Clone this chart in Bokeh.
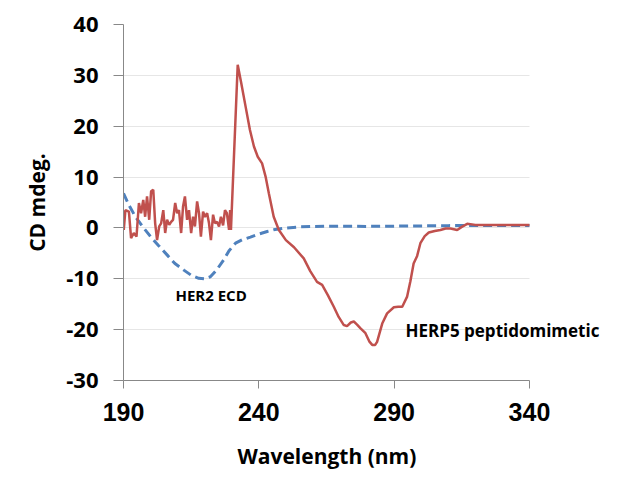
from bokeh.plotting import figure
from bokeh.models import Label, FixedTicker, PrintfTickFormatter, Title
from bokeh.embed import file_html
from bokeh.resources import INLINE

# HERP5 peptidomimetic (red, solid)
herp5_wl = [190.1, 190.7, 192.0, 192.8, 193.8, 194.8, 195.7, 196.5, 197.3, 198.0,
            198.7, 199.5, 200.2, 201.0, 201.7, 202.4, 203.2, 203.9, 204.7, 205.4,
            206.1, 206.9, 207.6, 208.3, 209.1, 209.8, 210.5, 211.3, 212.0, 212.7,
            213.5, 214.2, 215.0, 215.7, 216.4, 217.2, 217.9, 218.6, 219.4, 220.1,
            220.9, 221.6, 222.3, 223.1, 223.8, 224.5, 225.3, 226.0, 226.8, 227.5,
            228.2, 229.0, 229.4, 229.7,
            232.2, 233.5, 235.1, 236.7, 238.2, 239.6, 241.2, 242.5, 243.7, 245.5,
            247.4, 250.0, 253.0, 256.6, 259.0, 261.5, 263.4, 265.5, 267.7, 269.5,
            271.4, 272.6, 274.0, 275.1, 276.3, 277.5, 279.4, 280.8, 281.9, 283.0,
            283.7, 285.6, 287.4, 289.9, 291.5, 293.0, 294.8, 296.0, 297.2, 298.5,
            299.7, 301.3, 302.8, 305.0, 307.1, 309.0, 310.8, 313.3, 315.0, 317.0,
            320.0, 325.0, 330.0, 335.0, 340.0]
herp5_cd = [-0.4, 3.5, 3.2, -2.0, -1.0, -1.7, 4.9, 2.9, 5.5, 2.2,
            6.2, 1.6, 7.2, 7.5, 0.9, -2.4, 0.3, 0.9, 3.5, -1.0,
            1.6, 0.6, 1.2, 1.6, 4.9, 2.9, 3.5, -1.0, 4.2, 6.2,
            1.6, 3.5, -1.0, 2.2, 0.3, 5.2, 2.9, -1.7, 3.2, 2.2,
            2.9, 0.9, -2.4, 2.6, 0.9, 1.2, 0.3, 2.2, 0.5, 3.5,
            2.9, -0.4, 3.5, -0.4,
            32.1, 28.5, 23.9, 19.3, 16.0, 14.0, 12.7, 10.1, 6.8, 2.2,
            -0.4, -2.4, -3.8, -6.0, -8.5, -10.6, -11.2, -13.2, -15.5, -17.5,
            -19.1, -19.3, -18.6, -18.4, -19.0, -19.7, -20.7, -22.3, -23.0, -23.0,
            -22.4, -18.8, -16.8, -15.6, -15.5, -15.5, -13.5, -10.5, -7.0, -5.5,
            -3.0, -1.6, -0.9, -0.6, -0.4, -0.1, -0.1, -0.4, 0.2, 0.8,
            0.6, 0.6, 0.6, 0.6, 0.6]

# HER2 ECD (blue, dashed)
her2_wl = [190.0, 192.0, 194.4, 197.0, 200.0, 203.0, 206.1, 209.0, 212.3, 215.0,
           217.8, 220.0, 222.1, 224.5, 227.0, 229.0, 231.4, 234.0, 236.9, 240.0,
           243.1, 246.0, 249.2, 255.0, 260.0, 270.0, 280.0, 290.0, 300.0, 310.0,
           320.0, 330.0, 340.0]
her2_cd = [6.8, 4.5, 2.2, 0.3, -1.7, -3.5, -5.3, -7.0, -8.3, -9.3,
           -9.9, -10.0, -9.6, -8.2, -6.3, -4.5, -3.0, -2.3, -1.8, -1.2,
           -0.7, -0.3, -0.05, 0.2, 0.3, 0.35, 0.3, 0.35, 0.4, 0.45,
           0.5, 0.5, 0.5]

x_ticks = [190, 240, 290, 340]
y_ticks = [-30, -20, -10, 0, 10, 20, 30, 40]
x_min, x_max = 190, 340

# frame extends past 340 so the right-hand annotation is not clipped
p = figure(width=618, height=485, x_range=(190, 372.9), y_range=(-30, 40),
           output_backend="svg", toolbar_location=None,
           min_border_left=123, min_border_right=0, min_border_top=24, min_border_bottom=104)
p.outline_line_color = None
p.background_fill_color = "white"
p.border_fill_color = "white"

p.line(her2_wl, her2_cd, line_color="#4F81BD", line_width=3, line_dash="9 5")
p.line(herp5_wl, herp5_cd, line_color="#C0504D", line_width=2.5)

p.xgrid.grid_line_color = None
p.ygrid.grid_line_color = "#E6E6E6"
p.ygrid.ticker = FixedTicker(ticks=y_ticks)
try:
    p.ygrid.cross_bounds = (x_min, x_max)
except Exception:
    pass

p.xaxis.ticker = FixedTicker(ticks=x_ticks)
p.yaxis.ticker = FixedTicker(ticks=y_ticks)
p.xaxis.bounds = (x_min, x_max)
p.yaxis.formatter = PrintfTickFormatter(format="%d")
p.xaxis.formatter = PrintfTickFormatter(format="%d")
for ax in (p.xaxis[0], p.yaxis[0]):
    ax.axis_line_color = "#888888"
    ax.major_tick_line_color = "#888888"
    ax.minor_tick_line_color = None
    ax.major_tick_in = 0
    ax.major_label_text_color = "black"

p.xaxis.major_tick_out = 8
p.xaxis.major_label_standoff = 14
p.xaxis.major_label_text_font = "Liberation Sans"
p.xaxis.major_label_text_font_style = "bold"
p.xaxis.major_label_text_font_size = "25px"

p.yaxis.major_tick_out = 10
p.yaxis.major_label_standoff = 15
p.yaxis.major_label_text_font = "Open Sans"
p.yaxis.major_label_text_font_style = "bold"
p.yaxis.major_label_text_font_size = "22px"

# axis titles (as titles, so they can be positioned like the reference)
p.add_layout(Title(text="Wavelength (nm)", align="left", offset=114, standoff=32,
                   vertical_align="bottom",
                   text_font="Open Sans", text_font_style="bold", text_font_size="21px",
                   text_color="black"), "below")
p.add_layout(Title(text="CD mdeg.", align="center", offset=34, standoff=25,
                   text_font="Open Sans", text_font_style="bold", text_font_size="21px",
                   text_color="black"), "left")

p.add_layout(Label(x=209.2, y=-13.2, text="HER2 ECD", text_font="Open Sans",
                   text_font_style="bold", text_font_size="15px", text_color="black",
                   text_baseline="middle", text_align="left"))
p.add_layout(Label(x=294.2, y=-20.1, text="HERP5 peptidomimetic", text_font="Open Sans",
                   text_font_style="bold", text_font_size="17px", text_color="black",
                   text_baseline="middle", text_align="left"))

open("out.html", "w").write(file_html(p, INLINE))
